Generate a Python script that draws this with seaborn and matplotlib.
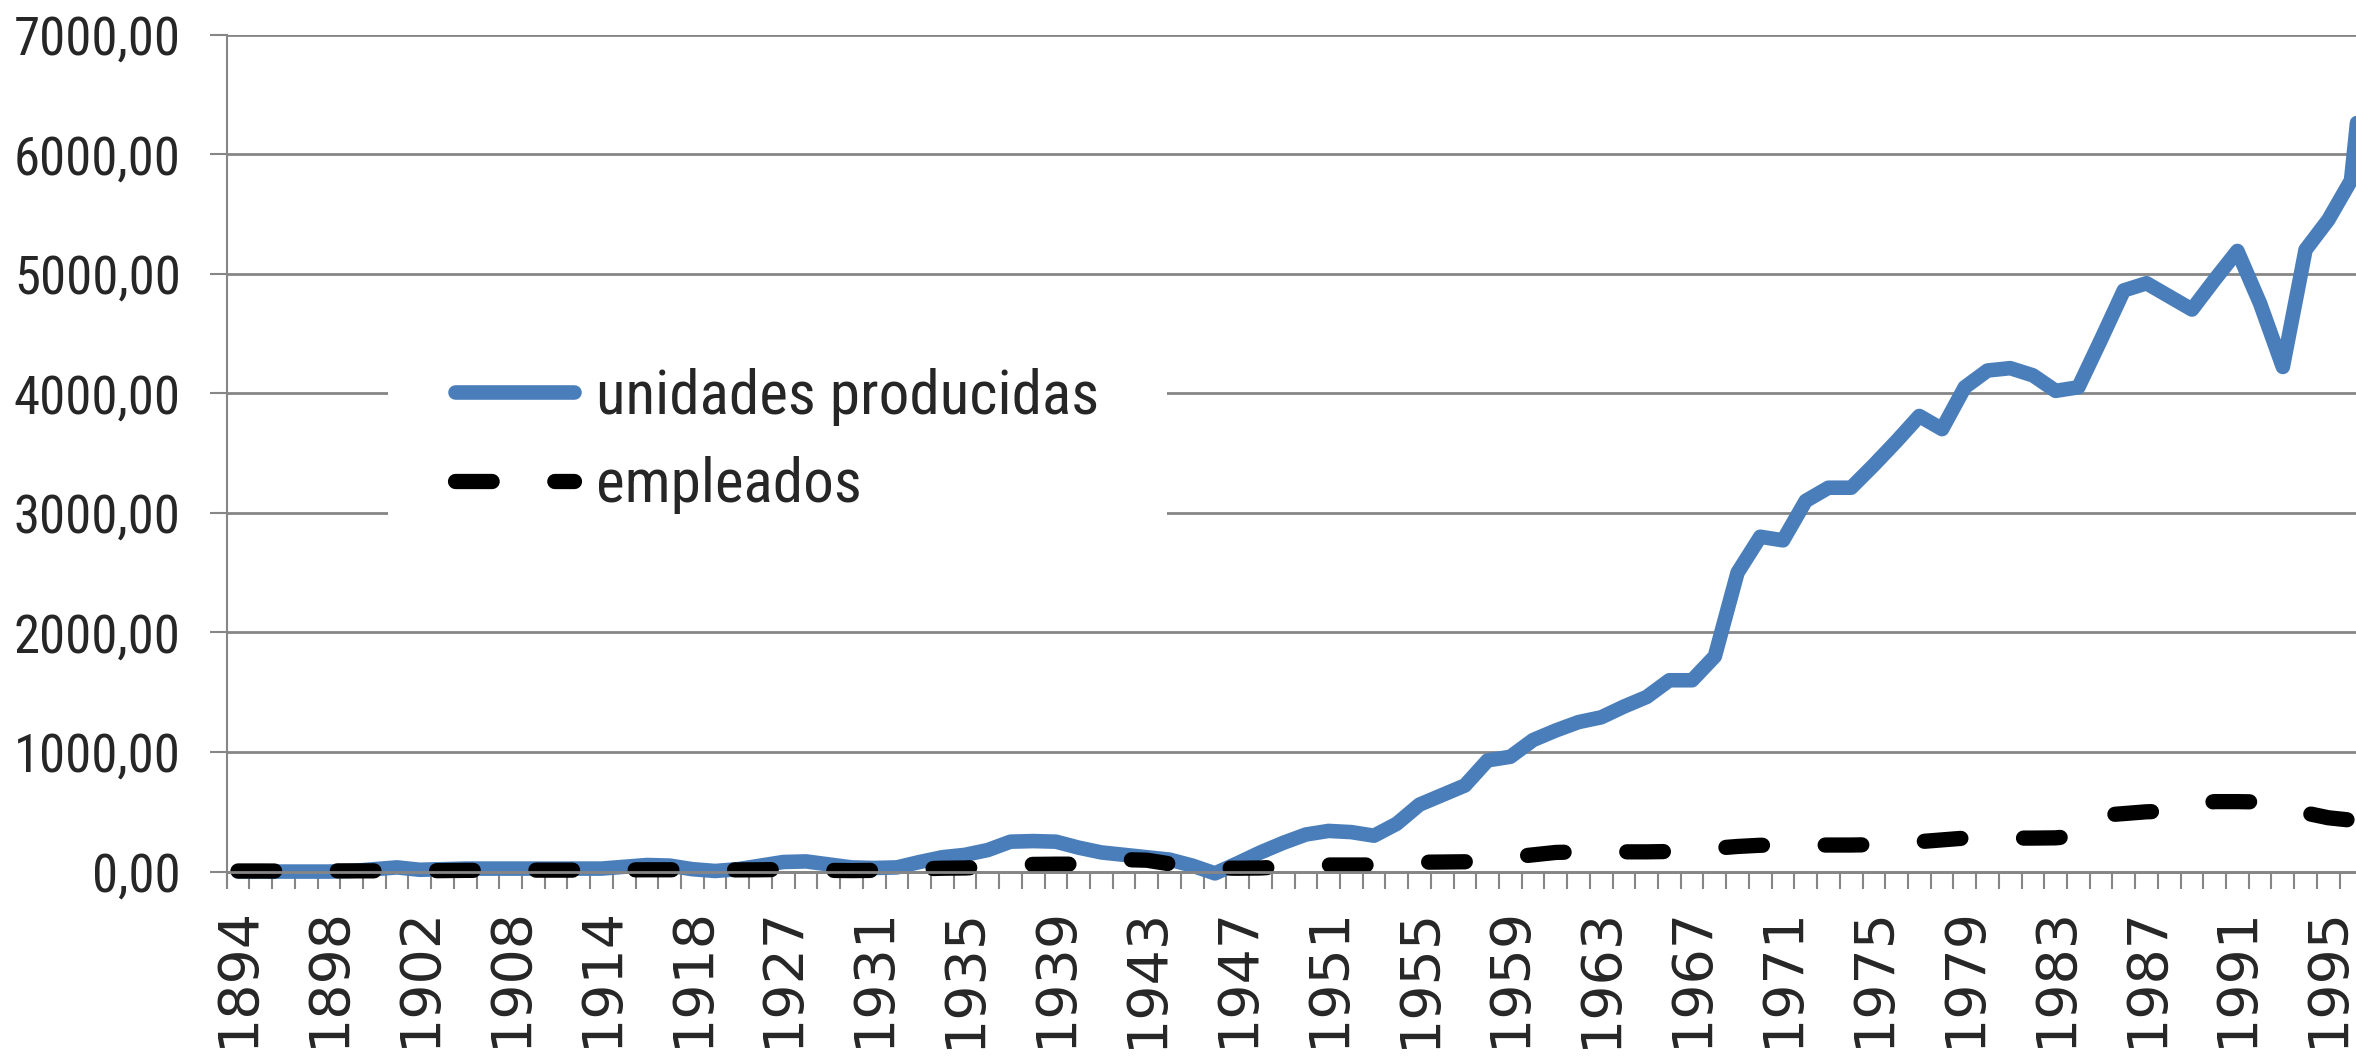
import matplotlib
matplotlib.use("Agg")
from matplotlib import pyplot as plt
from matplotlib import font_manager
from matplotlib.ticker import FuncFormatter

import numpy as np
import pandas as pd
import seaborn as sns

# categorias del eje x (faltan algunos anios antes de 1927)
anios = ([1894, 1895, 1896, 1897, 1898, 1899, 1900, 1901, 1902,
          1904, 1905, 1906, 1908,
          1910, 1911, 1912, 1914,
          1915, 1916, 1917, 1918,
          1920, 1922, 1925, 1927]
         + list(range(1928, 1998)))

unidades = [0, 0, 0, 0, 0, 5, 20, 35, 15,
            20, 25, 25, 25,
            25, 25, 25, 25,
            40, 55, 50, 20,
            5, 20, 50, 80,
            85, 60, 35, 30, 35, 80, 120, 140, 180, 250,
            255, 250, 200, 160, 140, 120, 100, 50, -15, 70,
            160, 240, 310, 340, 330, 300, 400, 560, 640, 720,
            930, 960, 1100, 1180, 1250, 1290, 1380, 1460, 1600, 1600,
            1800, 2500, 2800, 2770, 3100, 3210, 3210, 3400, 3600, 3810,
            3700, 4050, 4190, 4210, 4150, 4020, 4050, 4450, 4860, 4920,
            4810, 4700, 4950, 5190, 4750, 4220, 5200, 5450, 5780, 7600]

empleados = [5, 5, 4, 5, 6, 6, 6, 7, 6,
             8, 10, 10, 10,
             12, 12, 12, 12,
             14, 15, 15, 15,
             14, 14, 15, 18,
             15, 10, 8, 10, 15, 22, 28, 30, 40, 55,
             60, 62, 62, 80, 100, 95, 65, 45, 30, 28,
             30, 40, 50, 55, 55, 55, 65, 78, 80, 82,
             100, 120, 140, 160, 165, 165, 165, 165, 168, 180,
             195, 210, 220, 220, 220, 222, 222, 225, 235, 250,
             265, 280, 280, 280, 280, 282, 300, 470, 485, 500,
             505, 560, 585, 585, 582, 540, 490, 450, 430, 420]

etiquetas = [str(a) for a in anios]

df = pd.DataFrame({"anio": etiquetas, "unidades": unidades, "empleados": empleados})

# buscar una fuente estrecha parecida a la del original
disponibles = {f.name for f in font_manager.fontManager.ttflist}
fuente = "Liberation Sans"
tam_y, tam_leg = 34, 37
for cand in ["Liberation Sans Narrow", "Roboto Condensed", "Open Sans Condensed",
             "DejaVu Sans Condensed", "Noto Sans Condensed"]:
    if cand in disponibles:
        fuente = cand
        tam_y, tam_leg = 38, 44
        break

sns.set_style("white")
plt.rcParams["font.family"] = [fuente, "DejaVu Sans"]

fig = plt.figure(figsize=(23.56, 10.62), dpi=100)
ax = fig.add_axes([0.0962, 0.1703, 1 - 0.0962, 0.7972])

gris = "#868686"
azul = "#4A7EBB"

sns.lineplot(data=df, x="anio", y="unidades", ax=ax, color=azul, linewidth=10.5,
             errorbar=None, sort=False, label="unidades producidas",
             solid_capstyle="round", solid_joinstyle="round")
sns.lineplot(data=df, x="anio", y="empleados", ax=ax, color="black", linewidth=11,
             errorbar=None, sort=False, label="empleados",
             linestyle=(0, (2.4, 4.1)), dash_capstyle="round", dash_joinstyle="round")

ax.set_yticks(np.arange(0, 7001, 1000))
ax.yaxis.set_major_formatter(FuncFormatter(lambda v, p: f"{v:.2f}".replace(".", ",")))
ax.grid(axis="y", color=gris, linewidth=2)
ax.grid(axis="x", visible=False)
ax.set_axisbelow(True)

ax.set_xticks(etiquetas[::4])
ax.set_xticklabels(etiquetas[::4])
ax.set_xticks(np.arange(-0.5, len(anios), 1), minor=True)
ax.tick_params(axis="x", which="major", length=0, pad=25, labelsize=40,
               labelrotation=90, labelfontfamily="DejaVu Sans")
ax.tick_params(axis="x", which="minor", bottom=True, length=12, width=1.5, color=gris, direction="out")
ax.tick_params(axis="y", which="major", left=True, length=12, width=1.5, color=gris,
               direction="out", pad=21, labelsize=tam_y)

# los limites van al final: set_xticks los amplia
ax.set_xlim(-0.5, 93.22)
ax.set_ylim(-80, 7000)

for lado in ["top", "right"]:
    ax.spines[lado].set_visible(False)
ax.spines["left"].set_color(gris)
ax.spines["left"].set_linewidth(1.5)
ax.spines["bottom"].set_color(gris)
ax.spines["bottom"].set_linewidth(2)
ax.spines["bottom"].set_position(("data", 0))

ax.set_xlabel("")
ax.set_ylabel("")

leg = ax.legend(loc="center left", bbox_to_anchor=(388 / 2356, 1 - 441 / 1062),
                bbox_transform=fig.transFigure, fontsize=tam_leg, frameon=True,
                facecolor="white", edgecolor="none", framealpha=1, fancybox=False,
                handlelength=1.95, handletextpad=0.36, borderpad=1.1,
                labelspacing=0.5, borderaxespad=0)

plt.savefig("out.png", dpi=100)
